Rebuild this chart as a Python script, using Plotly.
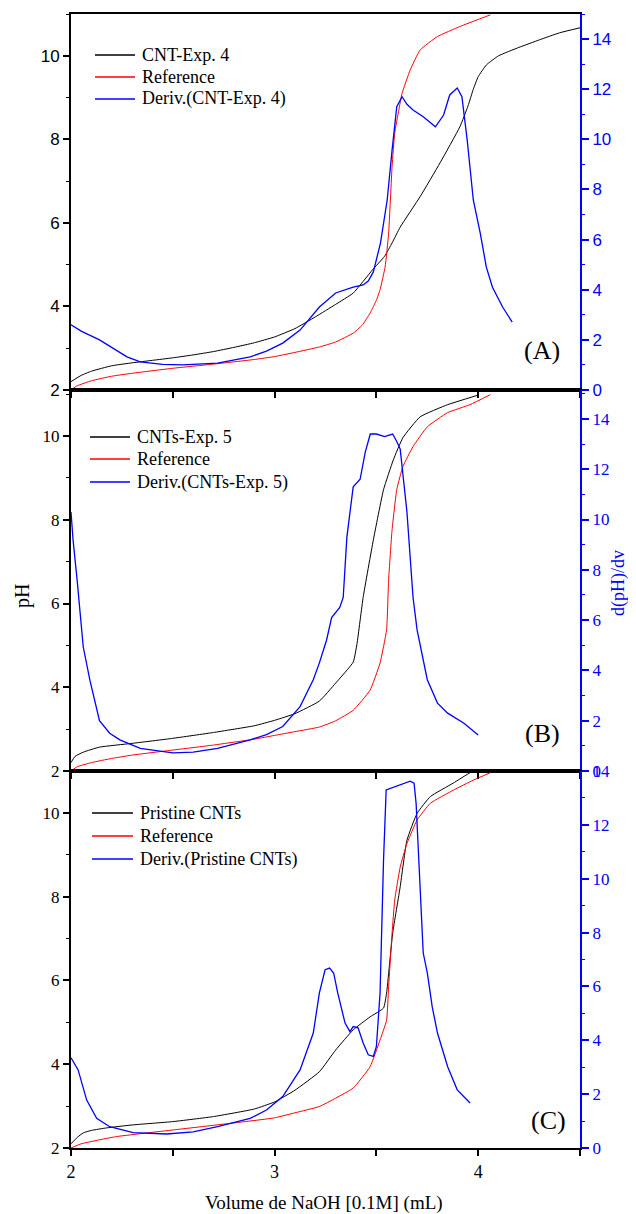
import plotly.graph_objects as go

# ---------------- Panel A ----------------
a_black_x = [2.0, 2.05, 2.1, 2.2, 2.3, 2.4, 2.5, 2.6, 2.7, 2.8, 2.9, 3.0, 3.1, 3.2, 3.3, 3.386, 3.48, 3.54, 3.577, 3.617, 3.715, 3.813, 3.91, 3.95, 3.976, 4.0, 4.04, 4.1, 4.2, 4.3, 4.4, 4.5]
a_black_y = [2.2, 2.35, 2.45, 2.58, 2.65, 2.71, 2.77, 2.84, 2.92, 3.02, 3.13, 3.27, 3.47, 3.75, 4.05, 4.32, 4.87, 5.2, 5.52, 5.9, 6.63, 7.44, 8.3, 8.8, 9.2, 9.5, 9.78, 10.0, 10.2, 10.38, 10.55, 10.67]
a_red_x = [2.0, 2.03, 2.1, 2.2, 2.3, 2.5, 2.7, 2.9, 3.0, 3.1, 3.22, 3.3, 3.386, 3.43, 3.469, 3.5, 3.518, 3.543, 3.56, 3.577, 3.59, 3.61, 3.626, 3.666, 3.715, 3.8, 3.91, 4.0, 4.06]
a_red_y = [2.0, 2.1, 2.22, 2.33, 2.4, 2.52, 2.62, 2.73, 2.8, 2.9, 3.03, 3.15, 3.36, 3.55, 3.84, 4.15, 4.4, 4.95, 5.75, 7.35, 8.15, 8.7, 9.1, 9.66, 10.14, 10.46, 10.7, 10.87, 10.98]
a_blue_x = [2.0, 2.05, 2.14, 2.2, 2.275, 2.34, 2.45, 2.55, 2.72, 2.88, 2.96, 3.04, 3.125, 3.22, 3.3, 3.386, 3.435, 3.46, 3.485, 3.52, 3.553, 3.577, 3.6, 3.626, 3.65, 3.68, 3.73, 3.79, 3.83, 3.86, 3.897, 3.92, 3.946, 3.976, 4.01, 4.04, 4.07, 4.12, 4.167]
a_blue_y = [2.6, 2.35, 2.0, 1.7, 1.32, 1.12, 1.02, 1.0, 1.07, 1.32, 1.55, 1.87, 2.39, 3.31, 3.87, 4.1, 4.19, 4.35, 4.71, 5.86, 7.58, 9.57, 11.3, 11.7, 11.4, 11.17, 10.9, 10.5, 10.97, 11.77, 12.05, 11.7, 9.97, 7.58, 6.26, 4.9, 4.1, 3.31, 2.71]

# ---------------- Panel B ----------------
b_black_x = [2.0, 2.02, 2.06, 2.14, 2.3, 2.5, 2.7, 2.9, 3.0, 3.1, 3.22, 3.3, 3.386, 3.405, 3.435, 3.485, 3.535, 3.583, 3.63, 3.715, 3.85, 3.995]
b_black_y = [2.2, 2.35, 2.45, 2.57, 2.66, 2.78, 2.92, 3.08, 3.21, 3.37, 3.67, 4.1, 4.6, 5.05, 6.15, 7.52, 8.72, 9.43, 9.96, 10.46, 10.75, 10.97]
b_red_x = [2.0, 2.03, 2.1, 2.2, 2.3, 2.5, 2.7, 2.9, 3.0, 3.1, 3.22, 3.3, 3.386, 3.469, 3.518, 3.55, 3.56, 3.577, 3.6, 3.63, 3.68, 3.75, 3.85, 3.96, 4.06]
b_red_y = [2.0, 2.1, 2.2, 2.3, 2.38, 2.5, 2.62, 2.76, 2.85, 2.94, 3.05, 3.2, 3.45, 3.93, 4.58, 5.37, 6.57, 7.76, 8.72, 9.27, 9.75, 10.22, 10.56, 10.75, 10.99]
b_blue_x = [2.0, 2.01, 2.03, 2.06, 2.093, 2.14, 2.19, 2.24, 2.34, 2.5, 2.6, 2.72, 2.88, 2.96, 3.04, 3.125, 3.19, 3.22, 3.255, 3.28, 3.32, 3.337, 3.355, 3.386, 3.42, 3.445, 3.47, 3.5, 3.54, 3.58, 3.6, 3.617, 3.65, 3.68, 3.7, 3.75, 3.8, 3.85, 3.93, 4.0]
b_blue_y = [10.3, 9.2, 7.6, 4.94, 3.6, 2.0, 1.5, 1.24, 0.9, 0.72, 0.75, 0.9, 1.24, 1.45, 1.77, 2.56, 3.63, 4.3, 5.2, 6.1, 6.5, 6.9, 9.3, 11.3, 11.6, 12.67, 13.4, 13.4, 13.3, 13.4, 13.1, 12.8, 10.3, 6.9, 5.6, 3.63, 2.7, 2.3, 1.9, 1.43]

# ---------------- Panel C ----------------
c_black_x = [2.0, 2.03, 2.06, 2.1, 2.175, 2.3, 2.5, 2.7, 2.9, 3.0, 3.1, 3.22, 3.3, 3.386, 3.469, 3.535, 3.55, 3.58, 3.617, 3.65, 3.7, 3.765, 3.877, 3.96, 3.98]
c_black_y = [2.1, 2.25, 2.36, 2.42, 2.48, 2.55, 2.63, 2.75, 2.93, 3.1, 3.38, 3.82, 4.34, 4.82, 5.13, 5.34, 5.7, 7.13, 8.24, 9.35, 9.99, 10.39, 10.71, 10.96, 11.0]
c_red_x = [2.0, 2.05, 2.22, 2.5, 2.75, 3.0, 3.1, 3.22, 3.3, 3.386, 3.469, 3.518, 3.55, 3.56, 3.577, 3.59, 3.617, 3.65, 3.7, 3.765, 3.877, 3.975, 4.06]
c_red_y = [2.0, 2.1, 2.27, 2.43, 2.57, 2.72, 2.84, 2.99, 3.19, 3.43, 3.94, 4.58, 5.05, 5.85, 7.13, 7.92, 8.71, 9.27, 9.83, 10.23, 10.54, 10.78, 10.96]
c_blue_x = [2.0, 2.035, 2.077, 2.126, 2.19, 2.305, 2.47, 2.6, 2.72, 2.88, 2.96, 3.04, 3.125, 3.19, 3.22, 3.248, 3.27, 3.29, 3.31, 3.346, 3.37, 3.386, 3.41, 3.435, 3.46, 3.485, 3.5, 3.518, 3.535, 3.548, 3.666, 3.685, 3.695, 3.705, 3.73, 3.75, 3.774, 3.8, 3.85, 3.897, 3.96]
c_blue_y = [3.35, 2.9, 1.78, 1.1, 0.79, 0.57, 0.52, 0.6, 0.79, 1.1, 1.41, 1.91, 2.9, 4.27, 5.76, 6.62, 6.68, 6.5, 5.76, 4.64, 4.32, 4.51, 4.46, 3.9, 3.46, 3.4, 3.77, 5.76, 10.7, 13.3, 13.62, 13.55, 12.8, 11.3, 7.24, 6.5, 5.25, 4.27, 3.02, 2.16, 1.67]

legend_names = [
    ["CNT-Exp. 4", "Reference", "Deriv.(CNT-Exp. 4)"],
    ["CNTs-Exp. 5", "Reference", "Deriv.(CNTs-Exp. 5)"],
    ["Pristine CNTs", "Reference", "Deriv.(Pristine CNTs)"],
]
panel_labels = ["(A)", "(B)", "(C)"]
x_ticks = [2, 3, 4]
series_colors = ["#000000", "#ff0000", "#0000ff"]

SERIF = "Liberation Serif, Times New Roman, serif"
SANS = "Liberation Sans, Arial, sans-serif"

OFF = 8  # page body margin
W, H = 636 - OFF, 1214 - OFF
# plot area in reference (window) pixels: x 71..580, y 14..1148
ML, MR = 71 - OFF, 636 - 580
MT, MB = 14 - OFF, 1214 - 1148
plot_w = W - ML - MR
plot_h = H - MT - MB


def px2paper(px):
    return (px - OFF - ML) / plot_w


def py2paper(py):
    return (H - MB - (py - OFF)) / plot_h


fig = go.Figure()

panels = [
    (a_black_x, a_black_y, a_red_x, a_red_y, a_blue_x, a_blue_y),
    (b_black_x, b_black_y, b_red_x, b_red_y, b_blue_x, b_blue_y),
    (c_black_x, c_black_y, c_red_x, c_red_y, c_blue_x, c_blue_y),
]
for i, (bx, by, rx, ry, ux, uy) in enumerate(panels):
    xa = "x" if i == 0 else f"x{i+1}"
    yl = "y" if i == 0 else f"y{i+1}"
    yr = f"y{i+4}"
    names = legend_names[i]
    fig.add_trace(go.Scatter(x=bx, y=by, xaxis=xa, yaxis=yl, mode="lines", name=names[0],
                             line=dict(color=series_colors[0], width=1, shape="spline", smoothing=0.4),
                             showlegend=False))
    fig.add_trace(go.Scatter(x=rx, y=ry, xaxis=xa, yaxis=yl, mode="lines", name=names[1],
                             line=dict(color=series_colors[1], width=1, shape="spline", smoothing=0.4),
                             showlegend=False))
    fig.add_trace(go.Scatter(x=ux, y=uy, xaxis=xa, yaxis=yr, mode="lines", name=names[2],
                             line=dict(color=series_colors[2], width=1.3),
                             showlegend=False))

# panel pixel boundaries (reference window pixels)
bounds = [(14, 390), (390, 771), (771, 1148)]
left_ranges = [[2, 11], [2, 11.1], [2, 11]]
right_ranges = [[0, 15], [0, 15.15], [0, 14]]
fonts = [SANS, SERIF, SERIF]

layout = dict(
    width=W, height=H,
    margin=dict(l=ML, r=MR, t=MT, b=MB, autoexpand=False),
    paper_bgcolor="white", plot_bgcolor="white",
    showlegend=False,
)
for i in range(3):
    top, bot = bounds[i]
    dom = [py2paper(bot), py2paper(top)]
    xk = "xaxis" if i == 0 else f"xaxis{i+1}"
    ylk = "yaxis" if i == 0 else f"yaxis{i+1}"
    yrk = f"yaxis{i+4}"
    yl = "y" if i == 0 else f"y{i+1}"
    xa = "x" if i == 0 else f"x{i+1}"
    layout[xk] = dict(
        domain=[0, 1], anchor=yl, range=[2, 4.5], tickvals=x_ticks,
        showticklabels=(i == 2), ticks="outside", ticklen=6, tickwidth=1.5,
        tickcolor="black", showline=True, linecolor="black", linewidth=2, mirror=True,
        showgrid=False, zeroline=False,
        minor=dict(ticks="outside", ticklen=6, tickwidth=1.5, tickcolor="black", dtick=0.5, showgrid=False),
        tickfont=dict(family=SERIF, size=18, color="black"),
    )
    layout[ylk] = dict(
        domain=dom, anchor=xa, range=left_ranges[i], tickvals=[2, 4, 6, 8, 10],
        ticks="outside", ticklen=6, tickwidth=1.5, tickcolor="black",
        showline=True, linecolor="black", linewidth=2, showgrid=False, zeroline=False,
        minor=dict(ticks="outside", ticklen=3, tickwidth=1.2, tickcolor="black", dtick=1, showgrid=False),
        tickfont=dict(family=fonts[i], size=17, color="black"),
    )
    layout[yrk] = dict(
        overlaying=yl, anchor=xa, side="right", range=right_ranges[i],
        tickvals=[0, 2, 4, 6, 8, 10, 12, 14],
        ticks="outside", ticklen=7, tickwidth=1.5, tickcolor="#0000ff",
        showline=True, linecolor="#0000ff", linewidth=2, showgrid=False, zeroline=False,
        minor=dict(ticks="outside", ticklen=3, tickwidth=1.2, tickcolor="#0000ff", dtick=1, showgrid=False),
        tickfont=dict(family=fonts[i], size=17, color="#0000ff"),
    )

shapes = []
annotations = []
# manual legends: (line x0, line x1, text x, [row y's]) in reference pixels
legend_geom = [
    (95, 135, 140, [55, 77, 99]),
    (90, 130, 135, [437, 459, 482]),
    (92, 133, 138, [813, 836, 859]),
]
for i, (lx0, lx1, tx, rows) in enumerate(legend_geom):
    for j, ry in enumerate(rows):
        shapes.append(dict(type="line", xref="paper", yref="paper",
                           x0=px2paper(lx0), x1=px2paper(lx1), y0=py2paper(ry), y1=py2paper(ry),
                           line=dict(color=series_colors[j], width=1.3)))
        annotations.append(dict(text=legend_names[i][j], xref="paper", yref="paper",
                                x=px2paper(tx), y=py2paper(ry), xanchor="left", yanchor="middle",
                                showarrow=False, font=dict(family=SERIF, size=18, color="black")))

label_pos = [(542, 350), (542, 733), (548, 1120)]
for i, lab in enumerate(panel_labels):
    lx, ly = label_pos[i]
    annotations.append(dict(text=lab, xref="paper", yref="paper", x=px2paper(lx), y=py2paper(ly),
                            xanchor="center", yanchor="middle", showarrow=False,
                            font=dict(family=SERIF, size=26, color="black")))
annotations.append(dict(text="pH", xref="paper", yref="paper", x=px2paper(22), y=py2paper(596),
                        xanchor="center", yanchor="middle", showarrow=False, textangle=-90,
                        font=dict(family=SERIF, size=20, color="black")))
annotations.append(dict(text="d(pH)/dv", xref="paper", yref="paper", x=px2paper(619), y=py2paper(583),
                        xanchor="center", yanchor="middle", showarrow=False, textangle=-90,
                        font=dict(family=SERIF, size=18, color="#0000ff")))
annotations.append(dict(text="Volume de NaOH [0.1M] (mL)", xref="paper", yref="paper",
                        x=px2paper(324), y=py2paper(1203), xanchor="center", yanchor="middle",
                        showarrow=False, font=dict(family=SERIF, size=19, color="black")))
layout["annotations"] = annotations
layout["shapes"] = shapes

fig.update_layout(**layout)
fig.write_html("out.html")
